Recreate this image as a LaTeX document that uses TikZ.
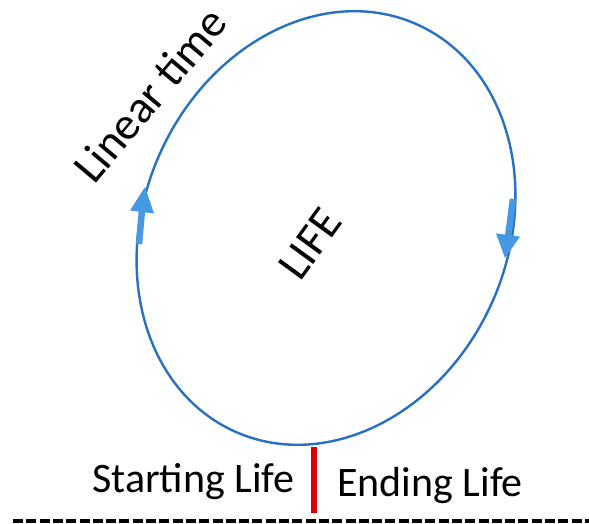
\documentclass[tikz,border=0pt]{standalone}
\usepackage{fontspec}
\setmainfont{Carlito}
\definecolor{ringblue}{RGB}{40,112,192}
\definecolor{arrowblue}{RGB}{70,152,224}
\definecolor{markred}{RGB}{222,0,0}
\definecolor{baseline}{RGB}{70,70,70}
\tikzset{
  ring/.style={draw=ringblue, line width=2.4pt},
  shaft/.style={draw=arrowblue, line width=6.5pt},
  headfill/.style={fill=arrowblue},
  label/.style={inner sep=0pt, font=\fontsize{42}{50}\selectfont},
  sidelabel/.style={inner sep=0pt, font=\fontsize{46}{54}\selectfont, anchor=base west},
}
\begin{document}
\begin{tikzpicture}[x=1pt,y=1pt]
\useasboundingbox (0,0) rectangle (589,524);
% life ellipse
\draw[ring, rotate around={-24:(326,296)}] (326,296) ellipse [x radius=182pt, y radius=223pt];
% left direction arrow (upwards)
\coordinate (la0) at (139,280);
\coordinate (la1) at (142,314);
\coordinate (lh1) at (154,310.5);
\coordinate (lh2) at (130,313.5);
\coordinate (lt) at (145,337);
\draw[shaft] (la0) -- (la1);
\fill[headfill] (lh1) -- (lt) -- (lh2) -- cycle;
% right direction arrow (downwards)
\coordinate (ra0) at (513,325);
\coordinate (ra1) at (508,287);
\coordinate (rh1) at (520,287.4);
\coordinate (rh2) at (496,290.6);
\coordinate (rt) at (505,266);
\draw[shaft] (ra0) -- (ra1);
\fill[headfill] (rh1) -- (rt) -- (rh2) -- cycle;
% labels
\node[sidelabel, rotate=50] (lin) at (94,338) {Linear time};
\node[sidelabel, rotate=54] (life) at (300,241) {LIFE};
\node[label, anchor=base west] (start) at (92,31) {Starting Life};
\node[label, anchor=base west] (end) at (337,27) {Ending Life};
% red marker and ground line
\coordinate (mtop) at (314,77);
\coordinate (mbot) at (314,11);
\draw[markred, line width=6pt] (mtop) -- (mbot);
\coordinate (gl) at (13,3);
\coordinate (gr) at (589,3);
\draw[baseline, line width=4pt, dash pattern=on 10pt off 3.3pt] (gl) -- (gr);
\end{tikzpicture}
\end{document}
